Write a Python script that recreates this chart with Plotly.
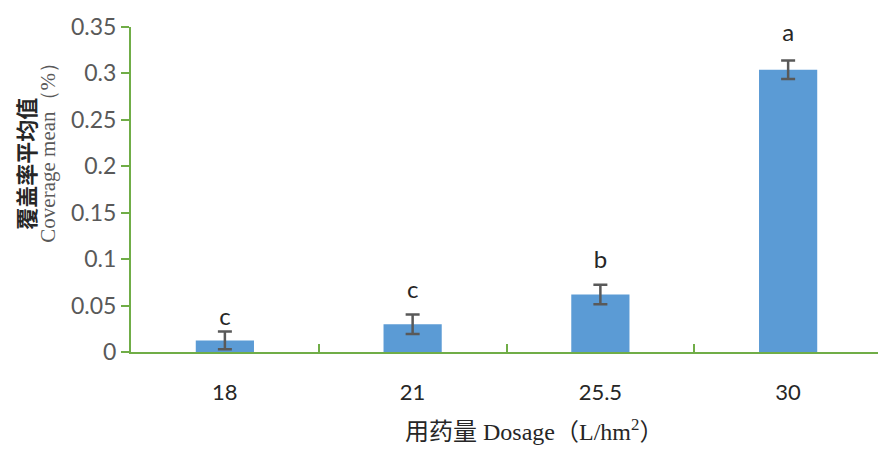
import plotly.graph_objects as go

# Données
dosages = ["18", "21", "25.5", "30"]
coverage_mean = [0.0125, 0.030, 0.062, 0.304]
coverage_err = [0.0095, 0.0105, 0.0105, 0.0100]
letters = ["c", "c", "b", "a"]
letter_y = [0.036, 0.065, 0.097, 0.341]

y_ticks = [0, 0.05, 0.1, 0.15, 0.2, 0.25, 0.3, 0.35]
y_ticktext = ["0", "0.05", "0.1", "0.15", "0.2", "0.25", "0.3", "0.35"]

axis_green = "#70AD47"

fig = go.Figure()

fig.add_trace(go.Bar(
    x=list(range(len(dosages))),
    y=coverage_mean,
    width=0.31,
    marker=dict(color="#5B9BD5", line=dict(width=0)),
    error_y=dict(type="data", array=coverage_err, color="#595959", thickness=2.5, width=7),
    showlegend=False,
))

# Lettres de significativité
fig.add_trace(go.Scatter(
    x=list(range(len(dosages))),
    y=letter_y,
    text=letters,
    mode="text",
    textposition="middle center",
    textfont=dict(size=24, color="#262626", family="Lato"),
    cliponaxis=False,
    showlegend=False,
    hoverinfo="skip",
))

# trace invisible pour afficher l'axe x2 (ticks aux limites des catégories)
fig.add_trace(go.Scatter(x=[0], y=[0], xaxis="x2", mode="markers",
                         marker=dict(opacity=0), showlegend=False, hoverinfo="skip"))

fig.update_layout(
    width=878,
    height=444,
    plot_bgcolor="white",
    paper_bgcolor="white",
    margin=dict(l=123, r=4, t=10, b=100),
    xaxis=dict(
        range=[-0.5, len(dosages) - 0.5],
        tickvals=list(range(len(dosages))),
        ticktext=dosages,
        showline=True,
        linecolor=axis_green,
        linewidth=2,
        ticks="",
        showgrid=False,
        zeroline=False,
        tickfont=dict(size=22, color="#262626", family="Lato"),
        ticklabelstandoff=20,
    ),
    xaxis2=dict(
        overlaying="x",
        matches="x",
        range=[-0.5, len(dosages) - 0.5],
        tickvals=[i + 0.5 for i in range(-1, len(dosages))],
        showticklabels=False,
        ticks="inside",
        ticklen=8,
        tickwidth=2,
        tickcolor=axis_green,
        showgrid=False,
        zeroline=False,
        anchor="y",
        side="bottom",
    ),
    yaxis=dict(
        range=[0, 0.35],
        tickvals=y_ticks,
        ticktext=y_ticktext,
        showline=True,
        linecolor=axis_green,
        linewidth=2,
        ticks="outside",
        ticklen=8,
        tickwidth=2,
        tickcolor=axis_green,
        showgrid=False,
        zeroline=False,
        ticklabeloverflow="allow",
        tickfont=dict(size=23, color="#595959", family="Lato"),
    ),
)

# Titres des axes
fig.add_annotation(
    x=-0.142, y=0.58, xref="paper", yref="paper",
    xanchor="center", yanchor="middle", textangle=-90, showarrow=False,
    text="<b>覆盖率平均值</b>",
    font=dict(size=22, color="#262626", family="Noto Sans CJK SC"),
)
fig.add_annotation(
    x=-0.11, y=0.63, xref="paper", yref="paper",
    xanchor="center", yanchor="middle", textangle=-90, showarrow=False,
    text="Coverage mean（%）",
    font=dict(size=21, color="#595959", family="Liberation Serif"),
)
fig.add_annotation(
    x=(534 - 131) / 751, y=-0.24, xref="paper", yref="paper",
    xanchor="center", yanchor="middle", showarrow=False,
    text="用药量 Dosage（L/hm<sup>2</sup>）",
    font=dict(size=24, color="#262626", family="Liberation Serif, Noto Sans CJK SC"),
)

fig.write_html("out.html")
